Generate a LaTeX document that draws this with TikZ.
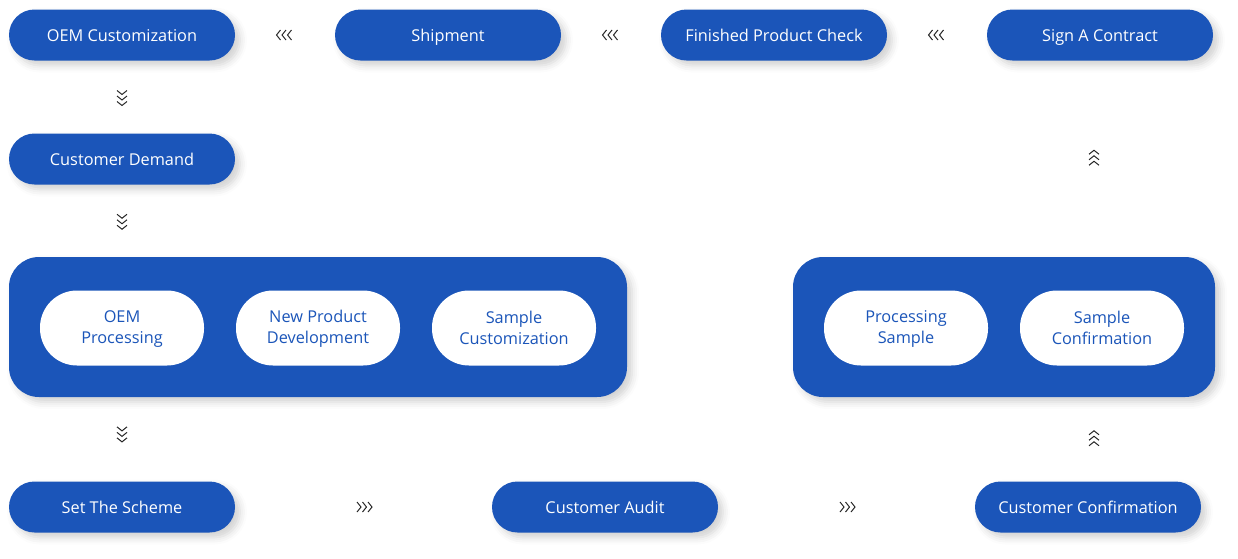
\documentclass[tikz,border=0pt]{standalone}
\usepackage{fontspec}
\setmainfont{Open Sans}
\usetikzlibrary{shadows.blur}
\definecolor{mblue}{HTML}{1B55B9}
\newcommand{\ls}{\rule[-1.6pt]{0pt}{15pt}}
\tikzset{
  shad/.style={blur shadow={shadow xshift=5pt, shadow yshift=-5pt, shadow blur radius=7pt, shadow opacity=18}},
  bluepill/.style={shad, fill=mblue, rounded corners=25.5pt, minimum width=226pt, minimum height=51pt, text=white, font=\fontsize{16.3}{21}\selectfont, inner sep=0pt, text height=14pt, text depth=1.6pt},
  whitepill/.style={fill=white, rounded corners=37pt, minimum width=164pt, minimum height=75pt, text=mblue, font=\fontsize{16.3}{21}\selectfont, align=center, inner sep=0pt},
  bigbox/.style={shad, fill=mblue, rounded corners=30pt, inner sep=0pt},
  chev/.pic={\foreach \i in {0,1,2}{\draw[line width=1pt, black!85, line join=miter] ({\i*5.5-6.5},-5) -- ({\i*5.5-2.5},0) -- ({\i*5.5-6.5},5);}},
}
\begin{document}
\begin{tikzpicture}[x=1pt,y=-1pt]
\useasboundingbox (0,0) rectangle (1238,558);
% top row
\node[bluepill] (oemc) at (122,35) {OEM Customization};
\node[bluepill] (ship) at (448,35) {Shipment};
\node[bluepill] (fpc) at (774,35) {Finished Product Check};
\node[bluepill] (sign) at (1100,35) {Sign A Contract};
\node[bluepill] (dem) at (122,159) {Customer Demand};
% boxes
\node[bigbox, minimum width=618pt, minimum height=140pt] (lbox) at (318,327) {};
\node[bigbox, minimum width=422pt, minimum height=140pt] (rbox) at (1004,327) {};
\node[whitepill] (oemp) at (122,328) {OEM\ls\\Processing\ls};
\node[whitepill] (npd) at (318,328) {New Product\ls\\Development\ls};
\node[whitepill] (sc) at (514,328) {Sample\ls\\Customization\ls};
\node[whitepill] (ps) at (906,328) {Processing\ls\\Sample\ls};
\node[whitepill] (sconf) at (1102,328) {Sample\ls\\Confirmation\ls};
% bottom row
\node[bluepill] (sch) at (122,507) {Set The Scheme};
\node[bluepill] (aud) at (605,507) {Customer Audit};
\node[bluepill] (cconf) at (1088,507) {Customer Confirmation};
\coordinate (cup) at ([xshift=6pt]cconf.north);
\coordinate (sdn) at ([xshift=-6pt]sign.south);
% chevron connectors
\path (ship) -- pic[rotate=180]{chev} (oemc);
\path (fpc) -- pic[rotate=180]{chev} (ship);
\path (sign) -- pic[rotate=180]{chev} (fpc);
\path (oemc.south) -- pic[rotate=-90]{chev} (dem.north);
\path (dem.south) -- pic[rotate=-90]{chev} (lbox.north -| dem);
\path (lbox.south -| sch) -- pic[pos=0.43,rotate=-90]{chev} (sch.north);
\path (sch.east) -- pic{chev} (aud.west);
\path (aud.east) -- pic{chev} (cconf.west);
\path (cup) -- pic[rotate=90]{chev} (rbox.south -| cup);
\path (rbox.north -| sdn) -- pic[rotate=90]{chev} (sdn);
\end{tikzpicture}
\end{document}
